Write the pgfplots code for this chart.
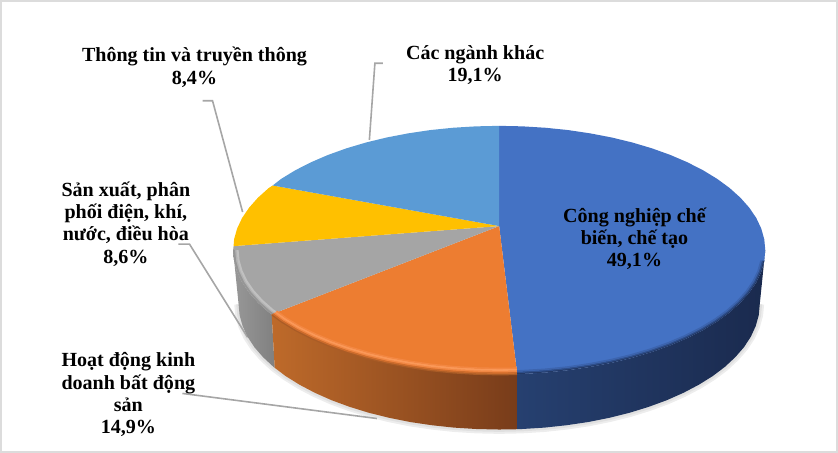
\documentclass[border=0pt]{standalone}
\usepackage{fontspec}
\setmainfont{Liberation Serif}
\usepackage{pgfplots}
\usepackage{pgfplotstable}
\pgfplotsset{compat=1.18}

\definecolor{cmain}{RGB}{68,114,196}
\definecolor{corange}{RGB}{237,125,49}
\definecolor{cgray}{RGB}{165,165,165}
\definecolor{cyellow}{RGB}{255,192,0}
\definecolor{clight}{RGB}{91,155,213}
\definecolor{leader}{RGB}{166,166,166}
\definecolor{frame}{RGB}{220,220,220}

% outlines of the slices in pixels
\pgfplotstableread{
x y
499 227
499 127
522.1 127.5
545.1 128.9
567.7 131.2
589.8 134.5
611.2 138.6
631.8 143.6
651.3 149.4
669.7 156
686.7 163.3
702.4 171.3
716.5 179.9
728.9 189
739.6 198.6
748.5 208.6
755.5 218.9
760.5 229.5
763.5 240.2
764.5 251
763.5 261.8
760.5 272.5
755.5 283.1
748.5 293.4
739.6 303.4
728.9 313
716.5 322.1
702.4 330.7
686.7 338.7
669.7 346
651.3 352.6
631.8 358.4
611.2 363.4
589.8 367.5
567.7 370.8
545.1 373.1
522.1 374.5
517 374.7
}\slicemain
\pgfplotstableread{
x y
499 227
517 374.7
499 375
475.9 374.5
452.9 373.1
430.3 370.8
408.2 367.5
386.8 363.4
366.2 358.4
346.7 352.6
328.3 346
311.3 338.7
295.6 330.7
281.5 322.1
272 315
}\sliceorange
\pgfplotstableread{
x y
499 227
272 315
269.1 313
258.4 303.4
249.5 293.4
242.5 283.1
237.5 272.5
234.5 261.8
233.5 251
234 247
}\slicegray
\pgfplotstableread{
x y
499 227
234 247
234.5 240.2
237.5 229.5
242.5 218.9
249.5 208.6
258.4 198.6
269.1 189
273 186.5
}\sliceyellow
\pgfplotstableread{
x y
499 227
273 186.5
281.5 179.9
295.6 171.3
311.3 163.3
328.3 156
346.7 149.4
366.2 143.6
386.8 138.6
408.2 134.5
430.3 131.2
452.9 128.9
475.9 127.5
499 127
}\slicelight

% side walls
\pgfplotstableread{
x y
233.5 251
234.5 261.8
237.5 272.5
242.5 283.1
249.5 293.4
258.4 303.4
269.1 313
272 315
275 368.4
273.8 367.5
263.4 357.8
254.7 347.8
247.9 337.4
243 326.7
240 315.9
239 305
}\wallgray
\pgfplotstableread{
x y
272 315
281.5 322.1
295.6 330.7
311.3 338.7
328.3 346
346.7 352.6
366.2 358.4
386.8 363.4
408.2 367.5
430.3 370.8
452.9 373.1
475.9 374.5
499 375
517 374.7
517 429.7
499 430
476.3 429.5
453.9 428.1
431.7 425.7
410.1 422.5
389.1 418.3
369 413.3
349.9 407.4
331.9 400.8
315.2 393.4
299.8 385.3
286 376.7
275 368.4
}\wallorange
\pgfplotstableread{
x y
517 374.7
522.1 374.5
545.1 373.1
567.7 370.8
589.8 367.5
611.2 363.4
631.8 358.4
651.3 352.6
669.7 346
686.7 338.7
702.4 330.7
716.5 322.1
728.9 313
739.6 303.4
748.5 293.4
755.5 283.1
760.5 272.5
763.5 261.8
764.5 251
759 305
758 315.9
755 326.7
750.1 337.4
743.3 347.8
734.6 357.8
724.2 367.5
712 376.7
698.2 385.3
682.8 393.4
666.1 400.8
648.1 407.4
629 413.3
608.9 418.3
587.9 422.5
566.3 425.7
544.1 428.1
521.7 429.5
517 429.7
}\wallmain

% front rims, used for the soft edge of the top face
\pgfplotstableread{
x y
272 315
281.5 322.1
295.6 330.7
311.3 338.7
328.3 346
346.7 352.6
366.2 358.4
386.8 363.4
408.2 367.5
430.3 370.8
452.9 373.1
475.9 374.5
499 375
517 374.7
}\rimorange
\pgfplotstableread{
x y
233.5 251
234.5 261.8
237.5 272.5
242.5 283.1
249.5 293.4
258.4 303.4
269.1 313
272 315
}\rimgray
\pgfplotstableread{
x y
517 374.7
522.1 374.5
545.1 373.1
567.7 370.8
589.8 367.5
611.2 363.4
631.8 358.4
651.3 352.6
669.7 346
686.7 338.7
702.4 330.7
716.5 322.1
728.9 313
739.6 303.4
748.5 293.4
755.5 283.1
760.5 272.5
763.5 261.8
}\rimmain
\pgfplotstableread{
x y
239 305
240 315.9
243 326.7
247.9 337.4
254.7 347.8
263.4 357.8
273.8 367.5
286 376.7
299.8 385.3
315.2 393.4
331.9 400.8
349.9 407.4
369 413.3
389.1 418.3
410.1 422.5
431.7 425.7
453.9 428.1
476.3 429.5
499 430
521.7 429.5
544.1 428.1
566.3 425.7
587.9 422.5
608.9 418.3
629 413.3
648.1 407.4
666.1 400.8
682.8 393.4
698.2 385.3
712 376.7
724.2 367.5
734.6 357.8
743.3 347.8
750.1 337.4
755 326.7
758 315.9
759 305
}\rimbottom

% #1 table, #2 inset in px, #3 colour, #4 width in pt
\newcommand{\bevel}[4]{%
  \addplot[draw=#3, line width=#4pt, line join=round] table[
    x expr={499+(\thisrow{x}-499)*(1-#2/265.5)},
    y expr={251+(\thisrow{y}-251)*(1-#2/124)}] {#1};
}

\begin{document}
\begin{tikzpicture}
\begin{axis}[
    scale only axis, width=628.5pt, height=340.5pt,
    xmin=0, xmax=838, ymin=0, ymax=454, y dir=reverse,
    hide axis, clip=false]

  % frame
  \addplot[draw=frame, line width=1.6pt] coordinates {(2,2.5) (836,2.5) (836,452) (2,452)} --cycle;

  % shadow under the pie
  \addplot[draw=black!7, line width=6.5pt] table {\rimbottom};
  \addplot[draw=black!12, line width=3.5pt] table {\rimbottom};

  % leader lines
  \addplot[draw=leader, line width=1.2pt] coordinates {(383,64.5) (375,64.5) (369.5,141)};
  \addplot[draw=leader, line width=1.2pt] coordinates {(203,102) (213,102) (243,213)};
  \addplot[draw=leader, line width=1.2pt] coordinates {(179,245) (190,245) (248,338)};
  \addplot[draw=leader, line width=1.2pt] coordinates {(183,394) (377,419)};

  % walls
  \addplot[draw=none, left color={rgb,255:red,152;green,152;blue,152}, right color={rgb,255:red,128;green,128;blue,128}] table {\wallgray} --cycle;
  \addplot[draw=none, left color={rgb,255:red,190;green,106;blue,42}, right color={rgb,255:red,120;green,60;blue,26}] table {\wallorange} --cycle;
  \addplot[draw=none, left color={rgb,255:red,38;green,64;blue,112}, right color={rgb,255:red,26;green,42;blue,78}] table {\wallmain} --cycle;

  % top face
  \addplot[fill=cmain, draw=none] table {\slicemain} --cycle;
  \addplot[fill=corange, draw=none] table {\sliceorange} --cycle;
  \addplot[fill=cgray, draw=none] table {\slicegray} --cycle;
  \addplot[fill=cyellow, draw=none] table {\sliceyellow} --cycle;
  \addplot[fill=clight, draw=none] table {\slicelight} --cycle;

  % soft edge along the front
  \bevel{\rimorange}{0}{{rgb,255:red,170;green,92;blue,38}}{1.5}
  \bevel{\rimorange}{1.2}{{rgb,255:red,205;green,108;blue,44}}{1.2}
  \bevel{\rimorange}{3}{{rgb,255:red,240;green,135;blue,68}}{1.2}
  \bevel{\rimorange}{4.5}{{rgb,255:red,250;green,152;blue,88}}{1.5}
  \bevel{\rimorange}{6}{{rgb,255:red,243;green,135;blue,66}}{1}
  \bevel{\rimgray}{1}{{rgb,255:red,150;green,150;blue,150}}{1.5}
  \bevel{\rimgray}{3}{{rgb,255:red,178;green,178;blue,178}}{1.2}
  \bevel{\rimgray}{4.5}{{rgb,255:red,192;green,192;blue,192}}{1.5}
  \bevel{\rimmain}{0.8}{{rgb,255:red,34;green,56;blue,100}}{1.2}
  \bevel{\rimmain}{1.8}{{rgb,255:red,46;green,78;blue,138}}{1.2}
  \bevel{\rimmain}{3.2}{{rgb,255:red,60;green,100;blue,174}}{1.2}

  % labels
  \tikzset{lab/.style={align=center, text=black, inner sep=0pt,
      font=\fontsize{15}{16.7}\selectfont\bfseries}}
  \node[lab] at (axis cs:195,68.5) {Thông tin và truyền thông\\8,4\%};
  \node[lab] at (axis cs:475,66.5) {Các ngành khác\\19,1\%};
  \node[lab] at (axis cs:126.5,225) {Sản xuất, phân\\phối điện, khí,\\nước, điều hòa\\8,6\%};
  \node[lab] at (axis cs:129,395.5) {Hoạt động kinh\\doanh bất động\\sản\\14,9\%};
  \node[lab] at (axis cs:634,239.5) {Công nghiệp chế\\biến, chế tạo\\49,1\%};
\end{axis}
\end{tikzpicture}
\end{document}
